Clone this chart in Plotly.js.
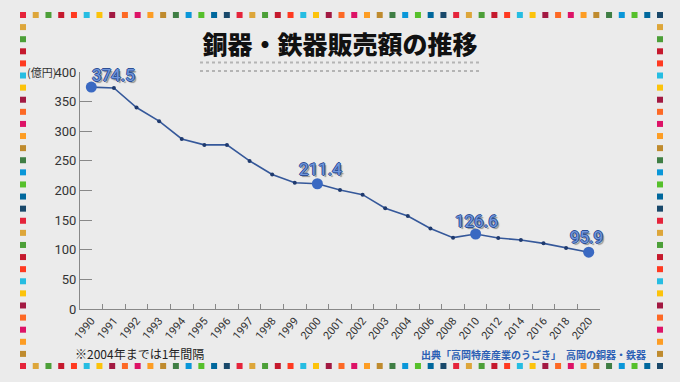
<!DOCTYPE html>
<html>
<head>
<meta charset="utf-8">
<script src="https://cdn.plot.ly/plotly-3.0.1.min.js"></script>
<style>
  html,body{margin:0;padding:0;background:#ebebeb;}
  #chart{width:680px;height:382px;}
</style>
</head>
<body>
<div id="chart"></div>
<script>
// ---- data ----
const years = ['1990','1991','1992','1993','1994','1995','1996','1997','1998','1999',
               '2000','2001','2002','2003','2004','2006','2008','2010','2012','2014',
               '2016','2018','2020'];
const sales = [374.5, 373, 340, 317, 287, 277, 277, 250, 227, 213,
               211.4, 201, 193, 170, 157, 136, 120.4, 126.6, 119.8, 116.5,
               110.8, 103, 95.9];
const labelYears = ['1990','2000','2010','2020'];
const labelValues = [374.5, 211.4, 126.6, 95.9];
const yTicks = [0, 50, 100, 150, 200, 250, 300, 350, 400];

const titleText = '銅器・鉄器販売額の推移';
const unitText = '(億円)';
const noteText = '※2004年までは1年間隔';
const sourceText = '出典「高岡特産産業のうごき」　高岡の銅器・鉄器';

// ---- layout helpers (pixel -> paper) ----
const L = 80, R = 600, T = 72, B = 309;
const px = x => (x - L) / (R - L);
const py = y => (B - y) / (B - T);

const sdg = ['#e5243b','#dda63a','#4c9f38','#c5192d','#ff3a21','#26bde2','#fcc30b',
             '#a21942','#fd6925','#dd1367','#fd9d24','#bf8b2e','#3f7e44','#0a97d9',
             '#56c02b','#00689d','#19486a'];

const shapes = [];
function sq(cx, cy, color){
  const h = 3;
  shapes.push({type:'rect', xref:'paper', yref:'paper',
    x0:px(cx-h), x1:px(cx+h), y0:py(cy+h), y1:py(cy-h),
    fillcolor:color, line:{width:0}, layer:'above'});
}
const nTop = 51, xs0 = 23, xs1 = 660;
for(let i=0;i<nTop;i++){
  const cx = xs0 + (xs1-xs0)*i/(nTop-1);
  sq(cx, 15, sdg[i%17]);
  sq(cx, 366, sdg[i%17]);
}
const nSide = 30;
for(let k=1;k<nSide-1;k++){
  const cy = 15 + (366-15)*k/(nSide-1);
  sq(xs0, cy, sdg[k%17]);
  sq(xs1, cy, sdg[k%17]);
}
[62.5, 71].forEach(y=>{
  shapes.push({type:'line', xref:'paper', yref:'paper',
    x0:px(200), x1:px(480), y0:py(y), y1:py(y),
    line:{color:'#b4b4b4', width:2, dash:'dot'}});
});

// ---- traces ----
const lineTrace = {
  type:'scatter', mode:'lines+markers', x:years, y:sales,
  line:{color:'#35589a', width:1.6},
  marker:{color:'#1f3a6e', size:4},
  hoverinfo:'skip'
};
const bigTrace = {
  type:'scatter', mode:'markers', x:labelYears, y:labelValues,
  marker:{color:'#3a69c2', size:11},
  hoverinfo:'skip'
};

const shifts = [[22,12],[3,15],[1,13],[-2,15]];
const labelShadow = '1px 0 0 #2d4f95, -1px 0 0 #2d4f95, 0 1px 0 #2d4f95, 0 -1px 0 #2d4f95, 2px 2px 1px #8c8c8c';
const annotations = labelValues.map((v,i)=>({
  xref:'x', yref:'y', x:years.indexOf(labelYears[i]), y:v,
  text:v.toFixed(1), showarrow:false,
  xshift:shifts[i][0], yshift:shifts[i][1],
  font:{family:'Roboto, Liberation Sans, sans-serif', size:17, color:'#7096dc', shadow:labelShadow}
}));
annotations.push({
  xref:'paper', yref:'y', x:px(58), y:400, xanchor:'right', yanchor:'middle',
  text:unitText, showarrow:false,
  font:{family:'Noto Sans CJK JP, sans-serif', size:11, color:'#333'}
});
annotations.push({
  xref:'paper', yref:'paper', x:px(73), y:py(353), xanchor:'left', yanchor:'middle',
  text:noteText, showarrow:false,
  font:{family:'Noto Sans CJK JP, sans-serif', size:12, color:'#222'}
});
annotations.push({
  xref:'paper', yref:'paper', x:px(648), y:py(354), xanchor:'right', yanchor:'middle',
  text:sourceText, showarrow:false,
  font:{family:'Noto Sans CJK JP, sans-serif', size:10, color:'#2c5fb4', weight:700}
});

const layout = {
  width:680, height:382,
  margin:{l:L, r:680-R, t:T, b:382-B, pad:0},
  paper_bgcolor:'#ebebeb', plot_bgcolor:'#ebebeb',
  showlegend:false,
  title:{text:titleText, x:0.5, xanchor:'center', xref:'paper',
         y:1-45/382, yref:'container', yanchor:'middle',
         font:{family:'Noto Sans CJK JP, sans-serif', size:25, color:'#111', weight:900}},
  xaxis:{type:'category', range:[-0.5, 22.5], tickson:'boundaries',
         ticks:'inside', ticklen:5, tickcolor:'#888', tickwidth:1,
         showline:true, linecolor:'#888', linewidth:1,
         showgrid:false, zeroline:false, tickangle:-50,
         tickfont:{family:'Roboto, Liberation Sans, sans-serif', size:11, color:'#333'},
         fixedrange:true},
  yaxis:{range:[0,400], tickvals:yTicks, ticktext:yTicks.map(String),
         ticks:'inside', ticklen:12, tickcolor:'#888', tickwidth:1,
         showline:true, linecolor:'#888', linewidth:1,
         showgrid:false, zeroline:false,
         tickfont:{family:'Roboto, Liberation Sans, sans-serif', size:13, color:'#333'},
         fixedrange:true},
  shapes:shapes,
  annotations:annotations
};

Plotly.newPlot('chart', [lineTrace, bigTrace], layout, {displayModeBar:false, staticPlot:true});
</script>
</body>
</html>
